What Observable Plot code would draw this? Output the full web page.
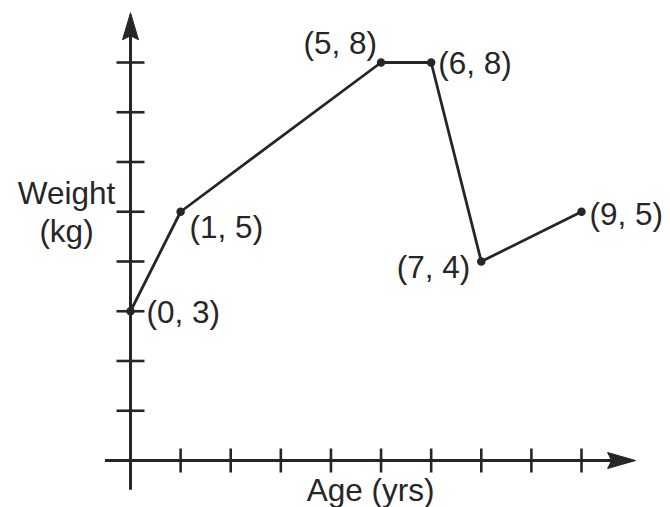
<!DOCTYPE html>
<html>
<head>
<meta charset="utf-8">
<script src="https://cdn.jsdelivr.net/npm/d3@7"></script>
<script src="https://cdn.jsdelivr.net/npm/@observablehq/plot@0.6"></script>
<style>
  html, body { margin: 0; padding: 0; background: #fff; }
  #chart svg { display: block; }
</style>
</head>
<body>
<div id="chart"></div>
<script>
// ---- data ----
const ages = [0, 1, 5, 6, 7, 9];
const weights = [3, 5, 8, 8, 4, 5];
const pointLabels = ["(0, 3)", "(1, 5)", "(5, 8)", "(6, 8)", "(7, 4)", "(9, 5)"];
const xTickValues = [1, 2, 3, 4, 5, 6, 7, 8, 9];
const yTickValues = [1, 2, 3, 4, 5, 6, 7, 8];
const xAxisTitle = "Age (yrs)";
const yAxisTitleLines = ["Weight", "(kg)"];

const points = ages.map((a, i) => ({age: a, weight: weights[i], label: pointLabels[i]}));

// label placement (styling only)
const placement = [
  {anchor: "start", dx: 16, dy: 2},
  {anchor: "start", dx: 9, dy: 16},
  {anchor: "end", dx: -4, dy: -19},
  {anchor: "start", dx: 7, dy: 1},
  {anchor: "end", dx: -11, dy: 6},
  {anchor: "start", dx: 8, dy: 3}
];

const ink = "#262626";
const font = "'Liberation Sans', Arial, Helvetica, sans-serif";
const fs = 31.5;

// custom symbols
const vTick = {draw(ctx) { ctx.moveTo(0, -12); ctx.lineTo(0, 12); }};
const hTick = {draw(ctx) { ctx.moveTo(-14, 0); ctx.lineTo(14, 0); }};
const upArrow = {draw(ctx) { ctx.moveTo(0, 0); ctx.lineTo(8, 27); ctx.lineTo(0, 23); ctx.lineTo(-8, 27); ctx.closePath(); }};
const rightArrow = {draw(ctx) { ctx.moveTo(0, 0); ctx.lineTo(-28, -8); ctx.lineTo(-24, 0); ctx.lineTo(-28, 8); ctx.closePath(); }};

const labelMarks = placement.map((p, i) => Plot.text([points[i]], {
  x: "age", y: "weight", text: "label",
  textAnchor: p.anchor, dx: p.dx, dy: p.dy,
  fontSize: fs, fill: ink, fontFamily: font
}));

const chart = Plot.plot({
  width: 670,
  height: 507,
  marginLeft: 130,
  marginRight: 89,
  marginTop: 62,
  marginBottom: 47,
  x: {domain: [0, 9], axis: null},
  y: {domain: [0, 8], axis: null},
  style: {background: "#fff", fontFamily: font, overflow: "visible"},
  marks: [
    // axes lines
    Plot.ruleY([0], {x1: -0.5, x2: 10.0, stroke: ink, strokeWidth: 3}),
    Plot.ruleX([0], {y1: -0.6, y2: 8.6, stroke: ink, strokeWidth: 3}),
    // arrow heads
    Plot.dot([{x: 0, y: 9.0}], {x: "x", y: "y", symbol: upArrow, fill: ink, stroke: ink, strokeWidth: 1}),
    Plot.dot([{x: 10.08, y: 0}], {x: "x", y: "y", symbol: rightArrow, fill: ink, stroke: ink, strokeWidth: 1}),
    // ticks
    Plot.dot(xTickValues, {x: d => d, y: 0, symbol: vTick, fill: "none", stroke: ink, strokeWidth: 2.6}),
    Plot.dot(yTickValues, {x: 0, y: d => d, symbol: hTick, fill: "none", stroke: ink, strokeWidth: 2.6}),
    // data line and points
    Plot.line(points, {x: "age", y: "weight", stroke: ink, strokeWidth: 2.8}),
    Plot.dot(points, {x: "age", y: "weight", r: 3.5, fill: ink, stroke: ink}),
    ...labelMarks,
    // axis titles
    Plot.text([xAxisTitle], {x: 4.79, y: -0.6, dy: 1, text: d => d, fontSize: fs, fill: ink, textAnchor: "middle", fontFamily: font}),
    Plot.text([yAxisTitleLines.join("\n")], {x: 0, y: 5, dx: -64, dy: -1, text: d => d, fontSize: fs, fill: ink, textAnchor: "middle", lineHeight: 1.22, fontFamily: font})
  ]
});

document.getElementById("chart").appendChild(chart);
</script>
</body>
</html>
